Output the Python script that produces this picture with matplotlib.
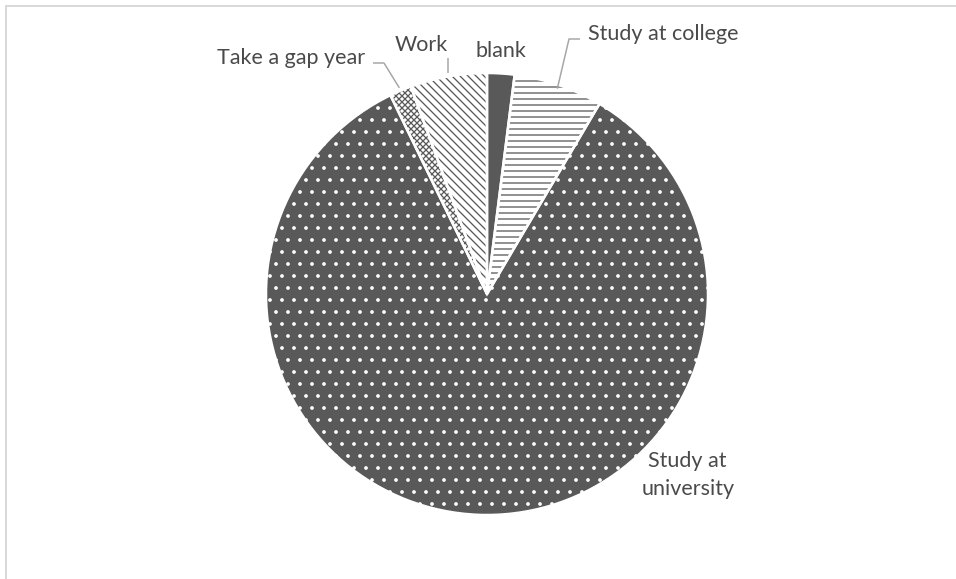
import matplotlib
matplotlib.use("Agg")
import matplotlib.pyplot as plt
from matplotlib.lines import Line2D
import numpy as np

# ---- data ----
categories = ["blank", "Study at college", "Study at university", "Take a gap year", "Work"]
values = [2.0, 6.5, 84.3, 1.6, 5.6]
label_lines = [["blank"], ["Study at college"], ["Study at", "university"], ["Take a gap year"], ["Work"]]

# ---- style ----
DARK = "#595959"
TEXT = "#4a4a4a"
LEADER = "#a6a6a6"
W, H = 956, 579
DPI = 72
plt.rcParams['hatch.linewidth'] = 1.3
plt.rcParams['font.family'] = ['Lato', 'DejaVu Sans']

fig = plt.figure(figsize=(W / DPI, H / DPI), dpi=DPI)
fig.patch.set_facecolor("white")
ax = fig.add_axes([0, 0, 1, 1])

cx, cy, R = 487, H - 294, 221

faces = [DARK, "white", DARK, "white", "white"]
hatch_cols = [DARK, DARK, "white", DARK, DARK]
hatches = [None, "--", ".", "xxxx", "\\\\\\"]

wedges, _ = ax.pie(values, startangle=90, counterclock=False, center=(cx, cy),
                   radius=R, frame=False)
for w, fc, hc, h in zip(wedges, faces, hatch_cols, hatches):
    w.set_facecolor(fc)
    w.set_edgecolor(hc)
    w.set_linewidth(0)
    if h:
        w.set_hatch(h)

edges, _ = ax.pie(values, startangle=90, counterclock=False, center=(cx, cy),
                  radius=R, frame=False,
                  wedgeprops=dict(facecolor='none', edgecolor='white', linewidth=2.5))

ax.set_xlim(0, W)
ax.set_ylim(0, H)
ax.set_aspect('equal')
ax.axis('off')


def mid_point(w, r):
    a = np.deg2rad((w.theta1 + w.theta2) / 2)
    return cx + r * np.cos(a), cy + r * np.sin(a)


fs = 21.5
# label positions (x centre, baseline y from top)
pos = {
    0: [(500.5, 57)],
    1: [(663.5, 40)],
    2: [(687.5, 467), (688, 495)],
    3: [(291, 64)],
    4: [(421.5, 51)],
}
for i, lines in enumerate(label_lines):
    for txt, (x, yb) in zip(lines, pos[i]):
        ax.text(x, H - yb, txt, ha='center', va='baseline', fontsize=fs, color=TEXT)

# leader lines
px, py = mid_point(wedges[3], R + 3)
ax.plot([373, 384, px], [H - 63, H - 63, py], color=LEADER, lw=1.5, solid_capstyle='butt')
px, py = mid_point(wedges[4], R + 3)
ax.plot([px, px], [H - 58, py], color=LEADER, lw=1.5, solid_capstyle='butt')
px, py = mid_point(wedges[1], R - 4)
ax.plot([580, 569, px], [H - 39, H - 39, py], color=LEADER, lw=1.5, solid_capstyle='butt')

# chart frame (top and left edges visible)
fig.add_artist(Line2D([5.5 / W, 1], [1 - 5.5 / H, 1 - 5.5 / H], color="#d9d9d9", lw=2,
                      transform=fig.transFigure))
fig.add_artist(Line2D([6 / W, 6 / W], [0, 1 - 5.5 / H], color="#d9d9d9", lw=2,
                      transform=fig.transFigure))

fig.savefig("out.png", dpi=DPI, facecolor="white")
